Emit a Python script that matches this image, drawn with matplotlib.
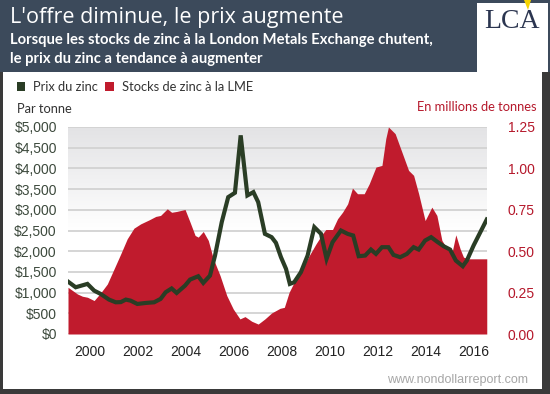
import matplotlib
matplotlib.use('Agg')
import matplotlib.pyplot as plt
import numpy as np
from matplotlib.patches import Rectangle, Patch, Polygon

# --- data ---
price_years = [1999.08, 1999.40, 1999.89, 2000.17, 2000.44, 2000.79, 2001.07, 2001.28,
               2001.49, 2001.69, 2001.97, 2002.32, 2002.67, 2002.94, 2003.15, 2003.40,
               2003.61, 2003.96, 2004.17, 2004.51, 2004.72, 2005.00, 2005.21, 2005.49,
               2005.76, 2006.04, 2006.28, 2006.56, 2006.81, 2007.01, 2007.29, 2007.57,
               2007.75, 2007.96, 2008.17, 2008.33, 2008.51, 2008.79, 2009.07, 2009.35,
               2009.63, 2009.86, 2010.11, 2010.46, 2010.74, 2010.97, 2011.20, 2011.47,
               2011.71, 2011.92, 2012.17, 2012.44, 2012.65, 2012.93, 2013.21, 2013.49,
               2013.70, 2013.97, 2014.22, 2014.46, 2014.74, 2015.01, 2015.25, 2015.54,
               2015.71, 2015.99, 2016.54]
price = [1266, 1129, 1210, 1048, 968, 831, 766, 770,
         831, 806, 726, 750, 766, 847, 1008, 1100,
         992, 1169, 1315, 1395, 1234, 1411, 1895, 2702,
         3306, 3411, 4798, 3347, 3427, 3185, 2419, 2339,
         2202, 1855, 1573, 1210, 1250, 1492, 1895, 2581,
         2419, 1815, 2218, 2500, 2419, 2379, 1879, 1895,
         2040, 1935, 2097, 2097, 1911, 1855, 1935, 2097,
         2040, 2258, 2339, 2234, 2121, 2040, 1774, 1637,
         1774, 2137, 2766]

stock_years = [1999.08, 1999.47, 1999.68, 1999.89, 2000.17, 2000.44, 2000.72, 2001.00,
               2001.28, 2001.55, 2001.83, 2002.11, 2002.46, 2002.74, 2002.94, 2003.22,
               2003.40, 2003.61, 2003.96, 2004.17, 2004.38, 2004.51, 2004.72, 2004.93,
               2005.14, 2005.42, 2005.70, 2005.97, 2006.25, 2006.46, 2006.74, 2007.01,
               2007.29, 2007.57, 2007.92, 2008.10, 2008.30, 2008.58, 2008.86, 2009.14,
               2009.42, 2009.69, 2009.83, 2010.11, 2010.32, 2010.53, 2010.74, 2010.94,
               2011.15, 2011.43, 2011.64, 2011.92, 2012.17, 2012.33, 2012.44, 2012.72,
               2013.00, 2013.28, 2013.49, 2013.70, 2013.97, 2014.25, 2014.46, 2014.67,
               2014.94, 2015.08, 2015.25, 2015.43, 2015.57, 2015.78, 2016.54]
stocks = [0.282, 0.242, 0.228, 0.222, 0.202, 0.248, 0.302, 0.393,
          0.484, 0.575, 0.639, 0.665, 0.689, 0.710, 0.716, 0.756,
          0.735, 0.740, 0.752, 0.675, 0.595, 0.585, 0.619, 0.565,
          0.454, 0.353, 0.232, 0.151, 0.091, 0.105, 0.077, 0.060,
          0.091, 0.127, 0.155, 0.161, 0.252, 0.333, 0.393, 0.474,
          0.544, 0.605, 0.631, 0.631, 0.696, 0.736, 0.786, 0.881,
          0.847, 0.847, 0.907, 1.008, 1.018, 1.180, 1.250, 1.210,
          1.099, 0.988, 0.958, 0.847, 0.685, 0.766, 0.716, 0.565,
          0.504, 0.484, 0.599, 0.514, 0.464, 0.454, 0.454]

year_ticks = [2000, 2002, 2004, 2006, 2008, 2010, 2012, 2014, 2016]
price_ticks = [0, 500, 1000, 1500, 2000, 2500, 3000, 3500, 4000, 4500, 5000]
stock_ticks = [0.0, 0.25, 0.5, 0.75, 1.0, 1.25]

GREEN = '#2a3d25'
RED = '#c01b2d'
HEADER = '#3c4a5b'
FRAME = '#3a3a3a'
W, H = 550, 394

narrow = ['Liberation Sans Narrow', 'Liberation Sans', 'DejaVu Sans']

fig = plt.figure(figsize=(5.5, 3.94), dpi=100, facecolor=FRAME)

def fx(px):
    return px / W

def fy(py):
    return 1 - py / H

# white body and dark header (behind the axes)
fig.patches.append(Rectangle((fx(3), fy(389)), fx(542) - fx(3), fy(72) - fy(389),
                             transform=fig.transFigure, facecolor='white', edgecolor='none', zorder=-10))
fig.patches.append(Rectangle((0, fy(72)), 1, 1 - fy(72), transform=fig.transFigure,
                             facecolor=HEADER, edgecolor='none', zorder=-10))
# logo box
fig.patches.append(Rectangle((fx(477), fy(72)), fx(548) - fx(477), fy(3) - fy(72),
                             transform=fig.transFigure, facecolor='white', edgecolor='none', zorder=-9))
fig.patches.append(Polygon([(fx(524), 1), (fx(531), 1), (fx(528), fy(10))], closed=True,
                           transform=fig.transFigure, facecolor='#f5d400', edgecolor='none', zorder=-8))
fig.text(fx(512), fy(22), 'LCA', ha='center', va='center', fontsize=20,
         family='Liberation Serif', color='#2b3550')

fig.text(fx(10), fy(18), "L'offre diminue, le prix augmente", ha='left', va='center',
         fontsize=15.5, family='Open Sans', color='white')
fig.text(fx(10), fy(40), "Lorsque les stocks de zinc à la London Metals Exchange chutent,",
         ha='left', va='center', fontsize=10.6, family='Lato', weight='bold', color='white')
fig.text(fx(10), fy(59), "le prix du zinc a tendance à augmenter",
         ha='left', va='center', fontsize=10.6, family='Lato', weight='bold', color='white')

# --- chart ---
ax = fig.add_axes([fx(68), fy(334), fx(487) - fx(68), fy(127) - fy(334)])
ax2 = ax.twinx()

grad = np.linspace(0, 1, 256).reshape(-1, 1)
ax2.imshow(grad, cmap=matplotlib.colors.LinearSegmentedColormap.from_list(
    'bg', ['#ffffff', '#ffffff', '#e3e3e5']), origin='lower', aspect='auto',
    extent=(1999.08, 2016.55, 0, 1.25), zorder=0)
ax2.set_yticks(np.arange(0, 1.26, 0.125), minor=True)
ax2.grid(True, which='both', axis='y', color='#d2d2d2', linewidth=1.3, zorder=1)
ax2.set_axisbelow(True)
ax2.fill_between(stock_years, stocks, 0, color=RED, linewidth=0, zorder=2)
ax2.set_xlim(1999.08, 2016.55)
ax2.set_ylim(0, 1.25)
ax2.set_yticks(stock_ticks)
ax2.set_yticklabels([f'{v:.2f}' for v in stock_ticks])
ax2.tick_params(axis='y', which='both', length=0, pad=15, labelsize=10, labelcolor='#b5182b')
for lab in ax2.get_yticklabels():
    lab.set_family(narrow)

ax.set_zorder(ax2.get_zorder() + 1)
ax.patch.set_visible(False)
ax.plot(price_years, price, color=GREEN, linewidth=3.0, solid_joinstyle='miter', zorder=3)
ax.set_xlim(1999.08, 2016.55)
ax.set_ylim(0, 5000)
ax.set_yticks(price_ticks)
ax.set_yticklabels([f'${v:,}' for v in price_ticks])
ax.set_xticks(year_ticks)
ax.set_xticklabels([str(y) for y in year_ticks])
ax.tick_params(axis='y', length=0, pad=8, labelsize=10, labelcolor='#3d4a3d')
ax.tick_params(axis='x', length=0, pad=8, labelsize=10, labelcolor='#222222')
for lab in ax.get_yticklabels() + ax.get_xticklabels():
    lab.set_family(narrow)

for a in (ax, ax2):
    for s in a.spines.values():
        s.set_visible(False)
ax2.tick_params(axis='x', which='both', bottom=False, top=False, labelbottom=False)
ax2.tick_params(axis='y', which='minor', length=0, labelright=False)

# legend and axis titles
handles = [Patch(facecolor=GREEN, label='Prix du zinc'),
           Patch(facecolor=RED, label='Stocks de zinc à la LME')]
fig.legend(handles=handles, loc='center left', bbox_to_anchor=(fx(14), fy(87)), ncol=2,
           frameon=False, handlelength=0.65, handleheight=0.65, handletextpad=0.6,
           columnspacing=0.6, borderaxespad=0, borderpad=0.2,
           prop={'family': 'Lato', 'size': 9.3}, labelcolor='#333333')
fig.text(fx(17), fy(109), 'Par tonne', ha='left', va='center', fontsize=9.3,
         family='Lato', color='#333333')
fig.text(fx(537), fy(107), 'En millions de tonnes', ha='right', va='center', fontsize=9.3,
         family='Lato', color='#b5182b')
fig.text(fx(528), fy(380), 'www.nondollarreport.com', ha='right', va='center', fontsize=9,
         family='Liberation Sans', color='#a6a6a6')

fig.savefig('out.png', dpi=100, facecolor=FRAME)
